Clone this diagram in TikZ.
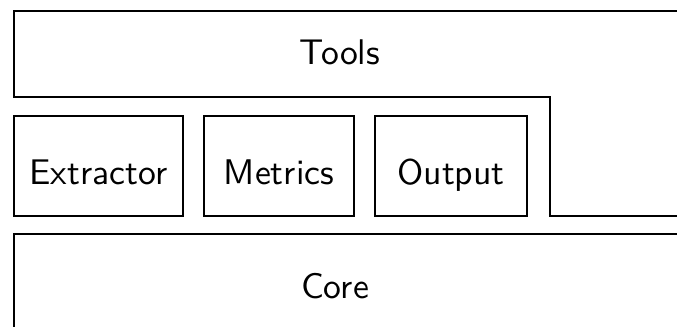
\documentclass[tikz,border=0pt]{standalone}
\usetikzlibrary{positioning}

\begin{document}
\begin{tikzpicture}[x=0.3pt, y=-0.3pt, font=\sffamily\fontsize{10.7}{13}\selectfont,
      blk/.style={draw, line width=0.45pt, minimum height=100*0.3pt, inner sep=0pt, outer sep=0pt,
                  text height=10.8pt, text depth=0pt},
      lay/.style={draw, line width=0.45pt}]
    \useasboundingbox (0,0) rectangle (677,326);
    \clip (0,0) rectangle (677,326);
    % tools layer (wraps over the row of modules)
    \draw[lay] (700,11) -| (14,97) -| (550,216) -- (700,216);
    \node[anchor=base] (tools) at (340,64) {Tools};
    % modules
    \node[blk, minimum width=169*0.3pt, anchor=north west] (ext) at (14,116) {Extractor};
    \node[blk, minimum width=150*0.3pt, right=21*0.3pt of ext] (met) {Metrics};
    \node[blk, minimum width=152*0.3pt, right=21*0.3pt of met] (out) {Output};
    % core layer
    \draw[lay] (700,234) -| (14,340);
    \node[anchor=base] (core) at (335,298) {Core};
\end{tikzpicture}
\end{document}
